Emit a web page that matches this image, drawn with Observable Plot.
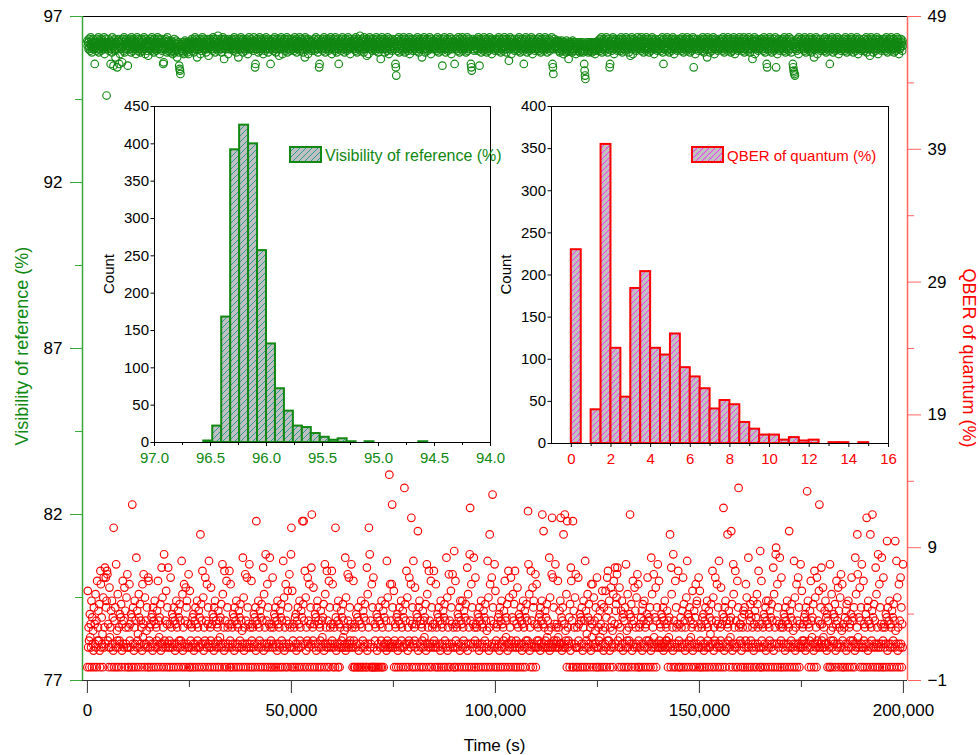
<!DOCTYPE html>
<html><head><meta charset="utf-8">
<script src="https://cdn.jsdelivr.net/npm/d3@7"></script>
<script src="https://cdn.jsdelivr.net/npm/@observablehq/plot@0.6"></script>
<style>
body{margin:0;background:#fff;}
#wrap{position:relative;width:978px;height:755px;font-family:"Liberation Sans",Arial,Helvetica,sans-serif;}
#wrap svg{position:absolute;overflow:visible;}
</style></head><body>
<svg width="0" height="0" style="position:absolute">
<defs>
<pattern id="hatchG" patternUnits="userSpaceOnUse" width="6" height="6">
<rect width="6" height="6" fill="#c0c0c0"/>
<path d="M0,6L6,0M-1,1L1,-1M5,7L7,5" stroke="#2a9a9a" stroke-width="1"/>
</pattern>
<pattern id="hatchR" patternUnits="userSpaceOnUse" width="6" height="6">
<rect width="6" height="6" fill="#c0c0c0"/>
<path d="M0,6L6,0M-1,1L1,-1M5,7L7,5" stroke="#ff2cff" stroke-width="1"/>
</pattern>
</defs></svg>
<div id="wrap"></div>
<script>
// ---------- data ----------
// Time series: one string per 5000 s segment, each character = one reading (level code)
const levelChars = "0123456789abcdefghijklmnopqrstuvwxyzABCDEFGHIJKLMNOPQRSTUVWXYZ";
const segmentSpan = 5000; // seconds per segment string
const visTop = 96.62, visStep = 0.05;   // visibility level code -> value
const qberStep = 0.25;                   // QBER level code -> value
const visSegments = [
"7a8c6b9d5a7e8b6ca9l7b8d6a9c5e8b7a6d9b8c7a5f8b6aEc9",
"8b6d9a7lc8e5b9m7a6dh8c9nb7a6l8f9c7bk6a8d5e9b7c6a8m",
"9a7c6b8e5a7d9b6c8a7f9b5d8a6c7be9a6d8b7c5a9f6b8d7ag",
"7b9a6c8d5b7a9e6c8b7d9a5c6b8f7a9c6d8blk7a9c6b8e5d7a",
"a9c8e7bd9fa8c6eb9d7ch9b8emopra9cd8ebf9a7c8db9e8cf9",
"8a9c7b6d8a9e7b5c8a6h9b7c8a6f9b7d5a8c6b9a7e8c6b9g7a",
"6b8a7c9d5a6b8e7a9c6b4d8a7b9c6e8a5b7i9a6c8b7a9f6c8b",
"7a9b6c8d7a5b9c6e8a7bh96a8c5b7a9e6b8c7d9a6b8f7a5c9b",
"8a6c9b7d5a8nla9c6b7e8a5d9b6c7a8f9b6d7a5c8b9e6a7c8l",
"a7b9c6d8a5b7e9c6a8b7g9a6c5b8f7a9c6b8d7a5e9b6c8a7d9",
"6a8c7b9d5a7b6e8c9a7b5d8a6c9b7e8a6h5b9c7a8f6b9c7a8d",
"8b7a9c6d8a5b7c9e6anl8b9a7c6d8b5a9e7c6b8a7d9c6b5a8f",
"7a9b6c8d5a7e9b6cl8a7b9d6a5c8b7e9a6c8d7b5a9c6f8b7a9",
"9a7c6b8d5a9e7b6c8a4d9b7c6a8e5b9c7a6g8b7f9a5c6b8a7d",
"6b8a9c7d5b6a8e9c7b6i8a5c9b7a6e8c9b7d5a8f6b9c7a8d6b",
"8a7c9lnsb6d8a5e7c9b6a8d7c5b9e6a8c7b9d6a5f8c7b9a6d8",
"a9c7b6d8a5b9e7c6a8b7h9a6c5b8e7a9c6d8b7a5c9f6b8a7c9",
"7b9a6c8d5a7e9b6c8a7dm9b6a5c8e7b9a6d8c7b5a9f6c8b7a9",
"l8a6c9b7d5a8e6b9c7a5d8b6c9a7e8b5d9c6a7b8lnp9a6c7d8",
"9a7b6c8d5a9m7b6e8c9a7d5b8a6c9e7b6d8a5c9b7f6a8c7b9d",
"6b8a7c9d5b6a8e7c9b6d8a5b7c9e6a8b7j9c5a6f8b7a9c6d8a",
"8a9c7b6d5a8e9c7b6a8dl9b7c5a6e8b9c7d6a8b5c9f7a6b8d9c",
"7b9a6c8d5a7e9b6c8a7d9b5a6c8e7b9a6d8c7b5alnr9c6b8a7",
"a9c8b7d9e8a9c7bd8f9a8c9be7dc9ai8b9d8ca9e7b8dc9a8fb9",
"b9d8ca9e8bd9ca8e9dlpsub9c8dae9b8cd9a8e9bc8da9f8cb9d",
"8a7c9b6d8a5e7c9b6a8d7c5b9e6a8cnl9b7d6a5c8f9b7a6c8d",
"9a6b8c7d5a9e6b8c7a9d5b6c8a7e9b6g8c5a7f9b6a8c7d9b5a",
"7b8a6c9d5b7a8e6c9b7d5a8c6b9e7a8d6c5b9a7f8c6b9a7d8c",
"a8c6b9d7a5e8l6c9b7a8d5c6b9e7a8c6d9b5a7f8c6b9a7d8c6",
"8b7a9c6d5b8e7a9c6b8d5a7c9b6e8a7d9c5bn6a8f7c9b6a8d7",
"9a6c8b7d5a9e6c8b7a9h5c6b8e7a9c6d8b5a7f9c6b8a7d9c6b",
"7b9a8c6d5b7e9a8c6b7d5a9c8b6e7a9d8c5b6f7a9c8b6d7a5c",
"a8c7b9d6a5e8c7b9a6d8c5b7e9a8c6i7b9a5f8c7b6a9d8c7b6",
"8b6a9c7d5b8e6a9lnc7b8d5a6c9e7b8a6d9c5bnb7f8a6c9d7b",
"9a7c6b8d5a9e7c6b8a9d5c7b6e9a8lnpqrsc7b9d6a8f5c7b9a",
"6b8a7c9d5b6e8a7c9b6d8a5c7e9b6a8h7c9b5a6f8c7b9a6d8c",
"8a9c7b6d5a8e9c7b6a8dl9c7b5a6e8b9c7d6a8b5c9f7a6b8d9c",
"7b9a6c8d5b7e9a6c8b7d9a5c6b8e7a9c6d8b5a7f9c6b8a7d9c",
"a8c6b9d7a5e8c6b9a7g8c5b6a9e7c8b6d9a5c7f8b6a9c7d8b6",
"8b7a9c6d5b8e7a9c6b8d5a7c9b6e8a7d9c5b6a8f7c9b6a8d7a"
];
const qberSegments = [
"0n6c80g9d6k0f7b5i0d7m6e0q8ch8j50tp6f7a0lr6cu7rikts",
"8d06o9c6h0k7f5G0e7i6v0b8m60c8g7fj05dq7e6o0hc7l6s0",
"6c0p8d6g0fN7i05ck7e0x6h8a0mf6j7e0c5p9ds70l6e7bi06r",
"q08c6d0f7g5i0e7k6d0c8h6q0e9f7j50u7l6c0y87e6n0di7u6",
"08d6r0c7g6f0i7e5d0k7c6h0f8j6e80w7m5c0p7e6o0ik7d6s0",
"6n08d6c0f7g50e7i6d0k8c6h0f6E7je0t7l5c08r7e6p0di7w6",
"0c8o6d0g7f5i0k7e6d0c8h60e9f7j60vm7c5t0e76q0ic7d6t0",
"8p0d6c7g0f5i7e0k6d7c0h6f8j0e6b7x0l5c7s0e6r7i0d6v7c",
"06q8d0c6g7f0i5Ie7d0k6c8h0f6j7e0u5m7c0y6e7p0i6d7x0c",
"8d06r7c0g6fi07e5k0d7c6h0fj8e06w7l5c0p7e60nid7s6c0y",
"G6n08d6c0f7g50e7i6d0k8c6h0fI7jIe0t7l5c08r7e6p0di7u",
"K0c8o6d0g7f5i0k7e6d0c8h60e9f7j50vm7c6t0e76q0ic7d6t",
"8p0d6c70Gf5i7e0k6d07c6h8f6j9e6b7x5l6c7se6r7i8d6v7c",
"06q80d0c6g70f0i5e07d0k6c08h0f6j7e00u5m7cG0y6e70p0i",
"0r60d80c0g5f07i0e6d08k0c6h07f6j7e5w8l6c7W6p7e6pNi7",
"6n08d6c0f7g50e7i6d0k8c6h0f6S7je0t7l5c08r7e6pJ0di7w",
"0c8o6d0g7fF5i0k7e6d0c8h60e9f7j50vm7c6t0e76q0ic7d6t",
"8d06p7c0g6fi07e5k0d7c6h0fj8e06x7l5c0s7e60nid7s6c0z",
"06q8d0c6g7f0i5ke7d0k6c8h0f6j7e0u5m7c0yMe7p0i6d7x0c",
"8r0d6c7g0f5i7e0k6d7c0h6f8j0e6b7w0l5cEp0e6r7Qi0d6v7",
"n08c6d0f7g5i0e7k6d0c8h6q0e9f7j50t7l6c0r87f6m0ej7t6",
"08d6o0c7g6f0i7e5d0k7c6h0f8j6e8Lv7m5c0t7e6o0ik7d6s0",
"6p8d6c8f7g5i7ekK6dF7c6h8f6j9e6b7x5l6c7sJ6r7i8d6v7c",
"8d6q9c6h7kJ7f5ei6E7dK6b8m0I6c87f0j5uq7e0I0hc7l6s06",
"6c0r8d6g0fe7i05ck7e0w6h8a0mf6j7e0c5p9dp70l6e7bi06r",
"0f6c80h9d6j0n7b5i0c7n6f0r8th8k50co6e7b0mq6du7hjlsu",
"8d06o9c6h0k7f5g0e7i6v0b8m60c8gK7fj05dq7e6o0hc7l6s0",
"p80c6d0f7h5j0e7k6c0d8g6r0e8f7i05x7m6c0s97f6o0ei7v6",
"6q8d6c7g6f7i5e7k6d8c8h60e9f7E60um7c5y0e76q0ic7d6t0",
"80d6f0c7h6r0j7e5c0l7w6g0f8i6e90c7n5d0h7f6p0jk7c6r0",
"6n08d6c0f7g50e7i6d0k8c6h0f6a7je0t7l5c08r7e6p0di7w6",
"0c8o6d0g7Mf5i0k7e6dEc8h60e9fF7j50vm7c6t0e76q0iSc7d",
"8d05f7c0h6gi08p6l0c7x6g0ej8f06c7k5d0h7f60mjc7t6d0z",
"06q8d0c6g7f0i5ke7d0k6c8h0f6j7e0u5m7c0yAe7p0i6d7x0c",
"8r0d6c7g0f5i7e0k6d7cF0h6f8j0e6b7w0l5c7p0e6r7i0d6v7",
"6n8c6d8f7g5i7eR6kd0c8h6q0e9f7j50t7l6c0r87e6nN6di7u",
"8d6o9c6h7k7f5g0e7i60v0b8m60c8g7fj05dq7e6o0hc7l6s0b",
"p80d6c0f7h5j0e7k6c0d8g6r0e8f7i05x7m6cEs97f6o0ei7v6",
"06q8d0c6g7J0i5ke7d0E6c8hK0f6j7e0u6m7c0y67p0i6d7x0c",
"8r0d6c7g0fC5i7e0k6d7c0h6f8j0e6Cb7w0l5c7p0e6r7i0d6v"
];
// Histogram of visibility: bin upper edge, bin lower edge, count
const visBinHi  = [96.56,96.48,96.40,96.32,96.24,96.16,96.08,96.00,95.92,95.84,95.76,95.68,95.60,95.52,95.44,95.36,95.28,95.12,94.64];
const visBinLo  = [96.48,96.40,96.32,96.24,96.16,96.08,96.00,95.92,95.84,95.76,95.68,95.60,95.52,95.44,95.36,95.28,95.20,95.04,94.56];
const visCounts = [2,22,168,392,425,400,257,132,72,42,22,20,12,7,3,5,1,1,1];
// Histogram of QBER: bin start, bin end, count
const qberBinLo  = [0,1,1.5,2,2.5,3,3.5,4,4.5,5,5.5,6,6.5,7,7.5,8,8.5,9,9.5,10,10.5,11,11.5,12,13,13.5,14.5];
const qberBinHi  = [0.5,1.5,2,2.5,3,3.5,4,4.5,5,5.5,6,6.5,7,7.5,8,8.5,9,9.5,10,10.5,11,11.5,12,12.5,13.5,14,15];
const qberCounts = [230,40,355,113,55,184,204,113,105,130,90,79,65,41,51,46,25,17,10,10,4,7,3,4,1,1,1];
// Ticks
const visTicks = [77,82,87,92,97];
const visMinorTicks = [79.5,84.5,89.5,94.5];
const qberTicks = [-1,9,19,29,39,49];
const qberMinorTicks = [4,14,24,34,44];
const timeTicks = [0,50000,100000,150000,200000];
const timeMinorTicks = [25000,75000,125000,175000];
const countTicksVis = [0,50,100,150,200,250,300,350,400,450];
const countTicksQber = [0,50,100,150,200,250,300,350,400];
const visHistTicks = [97.0,96.5,96.0,95.5,95.0,94.5,94.0];
const visHistMinor = [96.75,96.25,95.75,95.25,94.75,94.25];
const qberHistTicks = [0,2,4,6,8,10,12,14,16];
const qberHistMinor = [1,3,5,7,9,11,13,15];

// ---------- build ----------
function decode(segs, toValue) {
  const out = [];
  segs.forEach((s, k) => {
    for (let j = 0; j < s.length; j++) {
      const idx = levelChars.indexOf(s[j]);
      if (idx < 0) continue;
      out.push({t: k * segmentSpan + j * segmentSpan / s.length, v: toValue(idx)});
    }
  });
  return out;
}
const visPoints = decode(visSegments, i => visTop - visStep * i);
const qberPoints = decode(qberSegments, i => qberStep * i);
const visBins = visCounts.map((c, i) => ({hi: visBinHi[i], lo: visBinLo[i], count: c}));
const qberBins = qberCounts.map((c, i) => ({lo: qberBinLo[i], hi: qberBinHi[i], count: c}));

const FONT = "'Liberation Sans', Arial, Helvetica, sans-serif";
const W = 978, H = 755, mL = 82, mR = 71, mT = 16, mB = 75;
const xDomain = [-1200, 201000];
const GREEN = "#118811", RED = "#ff0000", AXG = "#38a838", AXR = "#ff6464";
const DOT_R = 3.8, DOT_W = 1.15;
const wrap = document.getElementById("wrap");
const noLabel = () => "";

const mainPlot = Plot.plot({
  width: W, height: H, marginLeft: mL, marginRight: mR, marginTop: mT, marginBottom: mB,
  x: {domain: xDomain}, y: {domain: [77, 97]},
  style: {background: "transparent", fontFamily: FONT, fontSize: "17px", color: "#000", overflow: "visible"},
  marks: [
    Plot.ruleY([97], {stroke: "#000", strokeWidth: 1}),
    Plot.ruleY([77], {stroke: "#333", strokeWidth: 1.2}),
    Plot.ruleX([xDomain[0]], {stroke: AXG, strokeWidth: 1.5}),
    Plot.axisY({anchor: "left", ticks: visTicks, tickSize: 12, tickPadding: 8, stroke: AXG, fill: "#000", label: null}),
    Plot.axisY({anchor: "left", ticks: visMinorTicks, tickSize: 7, tickFormat: noLabel, stroke: AXG, label: null}),
    Plot.axisX({ticks: timeTicks, tickSize: 13, tickPadding: 10, tickFormat: d3.format(","), stroke: "#333", fill: "#000", label: null}),
    Plot.axisX({ticks: timeMinorTicks, tickSize: 7, tickFormat: noLabel, stroke: "#333", label: null}),
    Plot.dot(visPoints, {x: "t", y: "v", r: DOT_R, stroke: GREEN, strokeWidth: DOT_W, fill: "none"})
  ]
});
mainPlot.style.left = "0px"; mainPlot.style.top = "0px";
wrap.appendChild(mainPlot);
const ms = d3.select(mainPlot);
ms.append("text").attr("transform", "translate(22,346) rotate(-90)")
  .attr("text-anchor", "middle").attr("dominant-baseline", "central")
  .attr("fill", GREEN).style("font-size", "18px").text("Visibility of reference (%)");
ms.append("text").attr("transform", "translate(969,358) rotate(90)")
  .attr("text-anchor", "middle").attr("dominant-baseline", "central")
  .attr("fill", RED).style("font-size", "18px").text("QBER of quantum (%)");
ms.append("text").attr("x", (mL + W - mR) / 2).attr("y", 745)
  .attr("text-anchor", "middle").attr("dominant-baseline", "central")
  .attr("fill", "#000").style("font-size", "17px").text("Time (s)");

const rightPlot = Plot.plot({
  width: W, height: H, marginLeft: mL, marginRight: mR, marginTop: mT, marginBottom: mB,
  x: {domain: xDomain, axis: null}, y: {domain: [-1, 49]},
  style: {background: "transparent", fontFamily: FONT, fontSize: "17px", color: "#000", overflow: "visible"},
  marks: [
    Plot.ruleX([xDomain[1]], {stroke: AXR, strokeWidth: 1.5}),
    Plot.axisY({anchor: "right", ticks: qberTicks, tickSize: 13, tickPadding: 7, stroke: AXR, fill: "#000", label: null}),
    Plot.axisY({anchor: "right", ticks: qberMinorTicks, tickSize: 6, tickFormat: noLabel, stroke: AXR, label: null}),
    Plot.dot(qberPoints, {x: "t", y: "v", r: DOT_R, stroke: RED, strokeWidth: DOT_W, fill: "none"})
  ]
});
rightPlot.style.left = "0px"; rightPlot.style.top = "0px";
wrap.appendChild(rightPlot);

function inset({left, top, w, h, xdom, ydom, bins, x1, x2, fillId, stroke, yTicks, xTicks, xMinor, xFmt, xColor, legend, legendSize}) {
  const iL = 60, iR = 10, iT = 10, iB = 30;
  const p = Plot.plot({
    width: iL + w + iR, height: iT + h + iB, marginLeft: iL, marginRight: iR, marginTop: iT, marginBottom: iB,
    x: {domain: xdom}, y: {domain: ydom},
    style: {background: "transparent", fontFamily: FONT, fontSize: "15px", color: "#000", overflow: "visible"},
    marks: [
      Plot.frame({fill: "white", stroke: "none"}),
      Plot.rectY(bins, {x1, x2, y: "count", fill: "#c0c0c0", stroke, strokeWidth: 2, insetLeft: 0, insetRight: 0}),
      Plot.frame({stroke: "#000", strokeWidth: 1}),
      Plot.axisY({ticks: yTicks, tickSize: 3.5, tickPadding: 2, stroke: "#000", fill: "#000", label: null}),
      Plot.axisX({ticks: xTicks, tickSize: 4, tickPadding: 6, tickFormat: xFmt, stroke: "#000", fill: xColor, label: null}),
      Plot.axisX({ticks: xMinor, tickSize: 3, tickFormat: noLabel, stroke: "#000", label: null})
    ]
  });
  p.style.left = (left - iL) + "px"; p.style.top = (top - iT) + "px";
  wrap.appendChild(p);
  const s = d3.select(p);
  s.selectAll("g[aria-label=rect] rect").attr("fill", `url(#${fillId})`);
  s.append("text").attr("transform", `translate(14,${iT + h / 2}) rotate(-90)`)
    .attr("text-anchor", "middle").attr("dominant-baseline", "central")
    .attr("fill", "#000").style("font-size", "15px").text("Count");
  const lx = legend.x - (left - iL), ly = legend.y - (top - iT);
  s.append("rect").attr("x", lx).attr("y", ly).attr("width", 31).attr("height", 15)
    .attr("fill", `url(#${fillId})`).attr("stroke", stroke).attr("stroke-width", 2);
  s.append("text").attr("x", lx + 35).attr("y", ly + 8).attr("text-anchor", "start")
    .attr("dominant-baseline", "central")
    .attr("fill", stroke).style("font-size", legendSize).text(legend.text);
}

inset({left: 154, top: 106, w: 336, h: 336, xdom: [97, 94], ydom: [0, 450], bins: visBins, x1: "hi", x2: "lo",
  fillId: "hatchG", stroke: GREEN, yTicks: countTicksVis, xTicks: visHistTicks, xMinor: visHistMinor,
  xFmt: d3.format(".1f"), xColor: GREEN, legend: {x: 290, y: 147, text: "Visibility of reference (%)"}, legendSize: "16px"});
inset({left: 551, top: 106, w: 337, h: 337, xdom: [-1, 16], ydom: [0, 400], bins: qberBins, x1: "lo", x2: "hi",
  fillId: "hatchR", stroke: RED, yTicks: countTicksQber, xTicks: qberHistTicks, xMinor: qberHistMinor,
  xFmt: d3.format("d"), xColor: RED, legend: {x: 692, y: 147, text: "QBER of quantum (%)"}, legendSize: "15px"});
</script></body></html>
